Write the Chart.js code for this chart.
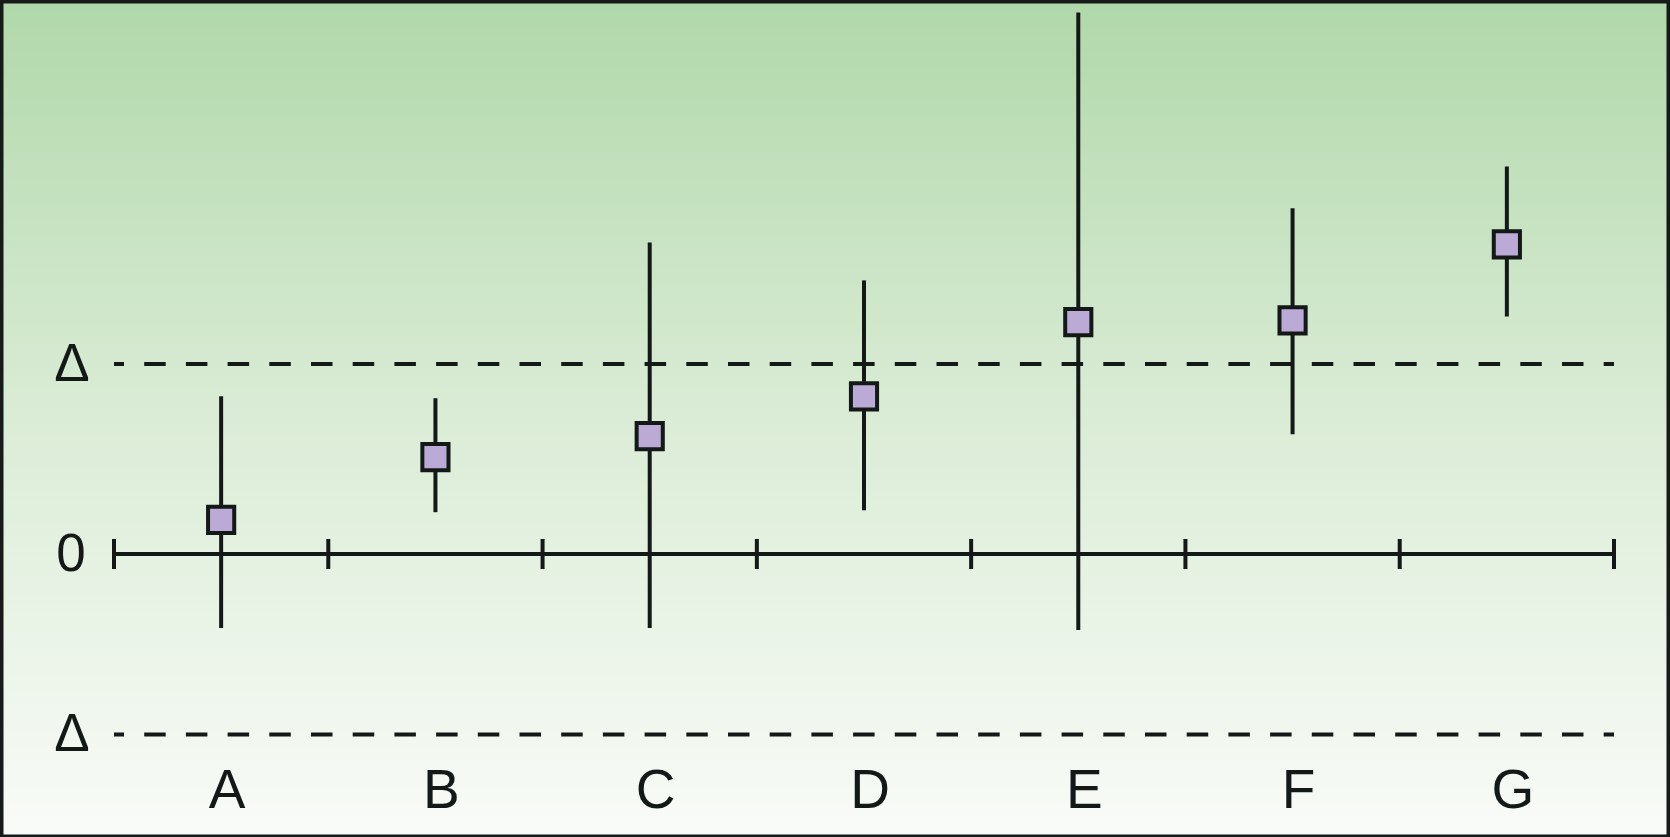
<!DOCTYPE html>
<html>
<head>
<meta charset="utf-8">
<script src="https://cdn.jsdelivr.net/npm/chart.js@4"></script>
<style>
  html, body { margin: 0; padding: 0; background: #fff; }
  canvas { display: block; }
</style>
</head>
<body>
<canvas id="ci-chart" width="1670" height="837"></canvas>
<script>
// trial data (units of the margin delta)
const categories = ['A', 'B', 'C', 'D', 'E', 'F', 'G'];
const estimates = [0.18, 0.51, 0.62, 0.83, 1.22, 1.23, 1.63];
const lowerCI = [-0.39, 0.22, -0.39, 0.23, -0.40, 0.63, 1.25];
const upperCI = [0.83, 0.82, 1.64, 1.44, 2.85, 1.82, 2.04];
const marginValues = [1, -0.95];
const marginLabels = ['Δ', 'Δ'];
const axisTicks = [0, 1, 2, 3, 4, 5, 6, 7];

const ink = '#131917';
const font = '"Liberation Sans", Arial, sans-serif';

const points = categories.map((c, i) => ({ x: i + 0.5, y: estimates[i] }));

// background gradient + frame
const backdrop = {
    id: 'backdrop',
    beforeDraw(chart) {
        const ctx = chart.ctx;
        const g = ctx.createLinearGradient(0, 0, 0, chart.height);
        g.addColorStop(0, '#b0d8aa');
        g.addColorStop(0.5, '#dbecd6');
        g.addColorStop(1, '#f9fbf8');
        ctx.save();
        ctx.fillStyle = g;
        ctx.fillRect(0, 0, chart.width, chart.height);
        ctx.restore();
    },
    afterDraw(chart) {
        const ctx = chart.ctx;
        ctx.save();
        ctx.strokeStyle = '#161b1a';
        ctx.lineWidth = 4;
        ctx.strokeRect(1.5, 1.5, chart.width - 3, chart.height - 2);
        ctx.restore();
    }
};

// zero axis, margin lines, whiskers and labels
const diagram = {
    id: 'diagram',
    beforeDatasetsDraw(chart) {
        const ctx = chart.ctx;
        const x = chart.scales.x;
        const y = chart.scales.y;
        const x0 = x.getPixelForValue(axisTicks[0]);
        const x1 = x.getPixelForValue(axisTicks[axisTicks.length - 1]);
        ctx.save();
        ctx.strokeStyle = ink;
        ctx.fillStyle = ink;
        ctx.lineCap = 'butt';

        // dashed margin lines
        ctx.lineWidth = 4;
        ctx.setLineDash([21.5, 20.2]);
        ctx.lineDashOffset = 11.5;
        marginValues.forEach(v => {
            const py = y.getPixelForValue(v);
            ctx.beginPath();
            ctx.moveTo(x0, py);
            ctx.lineTo(x1, py);
            ctx.stroke();
        });
        ctx.setLineDash([]);

        // zero axis with ticks
        const zy = y.getPixelForValue(0);
        ctx.lineWidth = 4;
        ctx.beginPath();
        ctx.moveTo(x0, zy);
        ctx.lineTo(x1, zy);
        axisTicks.forEach(t => {
            const px = x.getPixelForValue(t);
            ctx.moveTo(px, zy - 15);
            ctx.lineTo(px, zy + 15);
        });
        ctx.stroke();

        // confidence intervals
        ctx.lineWidth = 4;
        categories.forEach((c, i) => {
            const px = x.getPixelForValue(i + 0.5);
            ctx.beginPath();
            ctx.moveTo(px, y.getPixelForValue(lowerCI[i]));
            ctx.lineTo(px, y.getPixelForValue(upperCI[i]));
            ctx.stroke();
        });

        // text
        ctx.font = '53px ' + font;
        ctx.textAlign = 'center';
        ctx.textBaseline = 'middle';
        marginValues.forEach((v, i) => {
            ctx.fillText(marginLabels[i], 72, y.getPixelForValue(v) + 2);
        });
        ctx.fillText('0', 71, zy + 2);
        ctx.font = '55px ' + font;
        const labelY = y.getPixelForValue(-1.255);
        categories.forEach((c, i) => {
            ctx.fillText(c, x.getPixelForValue(i + 0.5) + 6, labelY);
        });
        ctx.restore();
    }
};

new Chart(document.getElementById('ci-chart'), {
    type: 'scatter',
    data: {
        datasets: [{
            data: points,
            pointStyle: 'rect',
            pointRadius: 18.5,
            pointHoverRadius: 18.5,
            backgroundColor: '#bcaad6',
            borderColor: ink,
            borderWidth: 4
        }]
    },
    options: {
        responsive: false,
        animation: false,
        devicePixelRatio: 1,
        layout: { autoPadding: false, padding: { left: 114, right: 56, top: 3, bottom: 55 } },
        plugins: { legend: { display: false }, tooltip: { enabled: false } },
        scales: {
            x: { type: 'linear', min: 0, max: 7, display: false },
            y: { type: 'linear', min: -1.2, max: 2.9, display: false }
        }
    },
    plugins: [backdrop, diagram]
});
</script>
</body>
</html>
